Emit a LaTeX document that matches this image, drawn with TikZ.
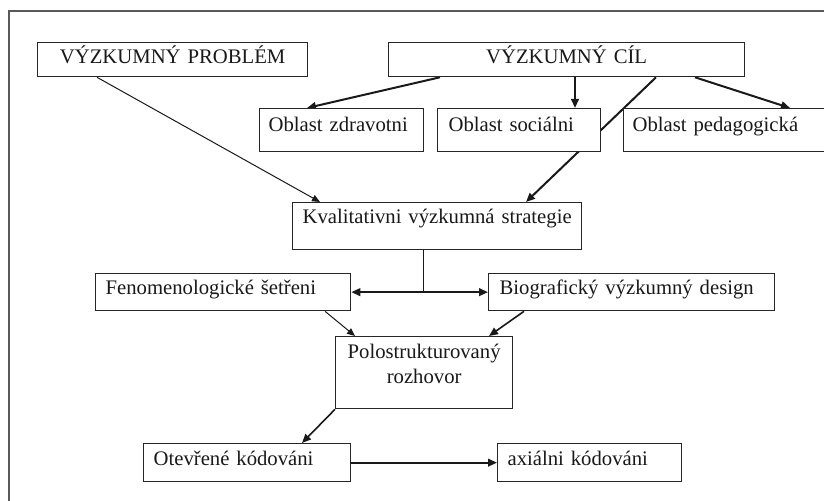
\documentclass[tikz,border=0pt]{standalone}
\usepackage{fontspec}
\setmainfont{Liberation Serif}
\usetikzlibrary{arrows.meta,calc}
\pgfdeclarelayer{background}
\pgfsetlayers{background,main}
\begin{document}
\begin{tikzpicture}[x=0.5pt,y=-0.5pt,
  box/.style={draw=black!85, line width=0.65pt, fill=white, inner sep=0pt,
    anchor=north west, align=left, text=black!90,
    font=\fontsize{10.35}{12.5}\selectfont},
  lbox/.style={box, execute at begin node={\hspace*{#1}}},
  cbox/.style={box, align=center},
  thin/.style={draw=black!90, line width=0.5pt, -{Triangle[length=4pt,width=3.4pt]}},
  thick/.style={draw=black!90, line width=1pt, -{Triangle[length=4.5pt,width=3.8pt]}},
  frame/.style={draw=black!65, line width=0.55pt}]
\useasboundingbox (0,0) rectangle (824,501);
\clip (0,0) rectangle (824,501);
\draw[frame] (9,520) -- (9,11) -- (840,11);

\node[cbox, text width=135pt, text height=10.5pt, text depth=6.5pt] (prob) at (37,42) {VÝZKUMNÝ PROBLÉM};
\node[cbox, text width=178pt, text height=10.5pt, text depth=6.5pt] (cil) at (388,42) {VÝZKUMNÝ CÍL};
\node[lbox=4.5pt, text width=82pt, text height=11.5pt, text depth=10pt] (zdr) at (259,108) {Oblast zdravotni};
\node[lbox=5.5pt, text width=81.5pt, text height=11.5pt, text depth=10pt] (soc) at (437,108) {Oblast sociálni};
\node[lbox=4.5pt, text width=115pt, text height=11.5pt, text depth=10pt] (ped) at (623,108) {Oblast pedagogická};
\node[lbox=5pt, text width=144.5pt, text height=10.5pt, text depth=13pt] (kval) at (292,202) {Kvalitativni výzkumná strategie};
\node[lbox=5pt, text width=127.5pt, text height=10.5pt, text depth=8pt] (fen) at (95,273) {Fenomenologické šetřeni};
\node[lbox=5.5pt, text width=143pt, text height=10.5pt, text depth=8pt] (bio) at (488,273) {Biografický výzkumný design};
\node[cbox, text width=88.5pt, text height=11pt, text depth=25pt] (pol) at (335,336) {Polostrukturovaný\\rozhovor};
\node[lbox=5pt, text width=103.5pt, text height=11pt, text depth=8pt] (ote) at (143,443) {Otevřené kódováni};
\node[lbox=5pt, text width=92pt, text height=11pt, text depth=8pt] (axi) at (497,443) {axiálni kódováni};

\begin{pgfonlayer}{background}
\draw[thin] ([xshift=30pt]prob.south west) -- ([xshift=14pt]kval.north west);
\draw[thick] ([xshift=26pt]cil.south west) -- ([xshift=24pt]zdr.north west);
\draw[thick] ([xshift=93.5pt]cil.south west) -- ([xshift=69pt]soc.north west);
\draw[thick] ([xshift=134pt]cil.south west) -- ([xshift=117pt]kval.north west);
\draw[thick] ([xshift=153.5pt]cil.south west) -- ([xshift=83.5pt]ped.north west);
\coordinate (ks) at ([xshift=65.5pt]kval.south west);
\coordinate (jn) at (ks |- fen.east);
\draw[draw=black!90, line width=0.5pt] (ks) -- (jn);
\draw[thick] (jn) -- (fen.east);
\draw[thick] (jn) -- (bio.west);
\draw[thin] ([xshift=115pt]fen.south west) -- ([xshift=10pt]pol.north west);
\draw[thick, line width=0.8pt] ([xshift=18pt]bio.south west) -- ([xshift=77pt]pol.north west);
\draw[thick, line width=0.8pt] (pol.south west) -- ([xshift=79.5pt]ote.north west);
\draw[thick] (ote.east) -- (axi.west);
\end{pgfonlayer}
\end{tikzpicture}
\end{document}
